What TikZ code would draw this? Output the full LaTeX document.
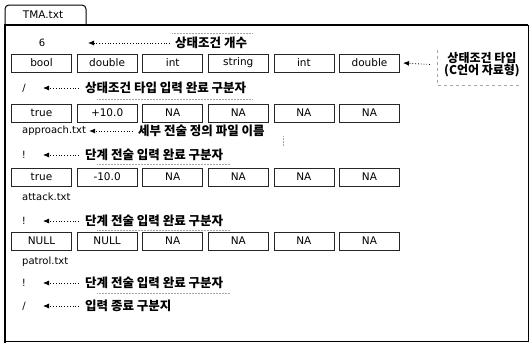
\documentclass[tikz,border=0pt]{standalone}
\usepackage{fontspec}
\setmainfont{DejaVu Sans}
\newfontfamily\kr{Noto Sans CJK KR}
\usetikzlibrary{arrows.meta}
\tikzset{
  cell/.style={draw=black!85, line width=0.8pt, rectangle, minimum width=60pt, minimum height=18pt, inner sep=0pt, font=\fontsize{10.5}{11}\selectfont},
  txt/.style={inner sep=0pt, font=\fontsize{10}{11}\selectfont},
  lab/.style={anchor=west, inner sep=0pt, font=\kr\bfseries\fontsize{12.5}{13}\selectfont},
  arr/.style={dotted, line width=0.8pt, -{Latex[length=6pt,width=5pt]}},
  faint/.style={densely dotted, black!35, line width=0.5pt},
}
\begin{document}
\begin{tikzpicture}[x=1pt,y=-1pt]
\useasboundingbox (0,0) rectangle (530,343);
% frame
\draw[line width=1pt, rounded corners=4pt] (5,25) -- (5,5) -- (86,5) -- (86,25);
\node[txt, font=\fontsize{10.5}{11}\selectfont] (tab) at (43,15) {TMA.txt};
\draw[line width=0.7pt] (528,25) -- (528,341) -- (5,341);
\draw[line width=1.6pt] (5,343) -- (5,25) -- (528,25);
% row: count
\node[txt] (n6) at (42,43) {6};
\node[lab] (l1) at (175,43) {상태조건 개수};
\coordinate (h1) at (88,43);
\draw[arr] ([xshift=-5pt]l1.west) -- (h1);
\draw[faint] (172,33) -- (252,33);
% types row
\foreach \t [count=\i from 0] in {bool,double,int,string,int,double}
  \node[cell] (a\i) at (41.5+65.6*\i,63) {\t};
\node[lab, align=center, anchor=west, font=\kr\bfseries\fontsize{12}{12.5}\selectfont] (l2) at (444,64.5) {상태조건 타입\\[-1pt](C언어 자료형)};
\coordinate (h2) at (403,63);
\draw[arr] ([xshift=-14pt]l2.west) -- (h2);
\draw[faint, dashed] (437,50) -- (437,85) -- (522,85);
% / row
\node[txt] (s1) at (24,88) {/};
\node[lab] (l3) at (85,88) {상태조건 타입 입력 완료 구분자};
\coordinate (h3) at (43,88);
\draw[arr] ([xshift=-6pt]l3.west) -- (h3);
\draw[faint] (97,99) -- (253,99);
% approach row
\foreach \t [count=\i from 0] in {true,+10.0,NA,NA,NA,NA}
  \node[cell] (b\i) at (41.5+65.6*\i,113) {\t};
\node[txt, anchor=west] (f1) at (22,131) {approach.txt};
\node[lab] (l4) at (138,131) {세부 전술 정의 파일 이름};
\draw[arr] ([xshift=-5pt]l4.west) -- ([xshift=3pt]f1.east);
\draw[faint] (283,136) -- (283,146);
% ! row
\node[txt] (e1) at (24,155) {!};
\node[lab] (l5) at (85,155) {단계 전술 입력 완료 구분자};
\coordinate (h5) at (43,155);
\draw[arr] ([xshift=-6pt]l5.west) -- (h5);
\draw[faint] (97,164) -- (230,164);
% attack row
\foreach \t [count=\i from 0] in {true,-10.0,NA,NA,NA,NA}
  \node[cell] (c\i) at (41.5+65.6*\i,177) {\t};
\node[txt, anchor=west] (f2) at (22,197) {attack.txt};
% ! row
\node[txt] (e2) at (24,221) {!};
\node[lab] (l6) at (85,221) {단계 전술 입력 완료 구분자};
\coordinate (h6) at (43,221);
\draw[arr] ([xshift=-6pt]l6.west) -- (h6);
\draw[faint] (97,230) -- (230,230);
% patrol row
\foreach \t [count=\i from 0] in {NULL,NULL,NA,NA,NA,NA}
  \node[cell] (d\i) at (41.5+65.6*\i,241) {\t};
\node[txt, anchor=west] (f3) at (22,262) {patrol.txt};
% ! row
\node[txt] (e3) at (24,283) {!};
\node[lab] (l7) at (85,283) {단계 전술 입력 완료 구분자};
\coordinate (h7) at (43,283);
\draw[arr] ([xshift=-6pt]l7.west) -- (h7);
\draw[faint] (97,293) -- (230,293);
% / end row
\node[txt] (s2) at (24,306) {/};
\node[lab] (l8) at (85,306) {입력 종료 구분지};
\coordinate (h8) at (43,306);
\draw[arr] ([xshift=-6pt]l8.west) -- (h8);
\end{tikzpicture}
\end{document}
